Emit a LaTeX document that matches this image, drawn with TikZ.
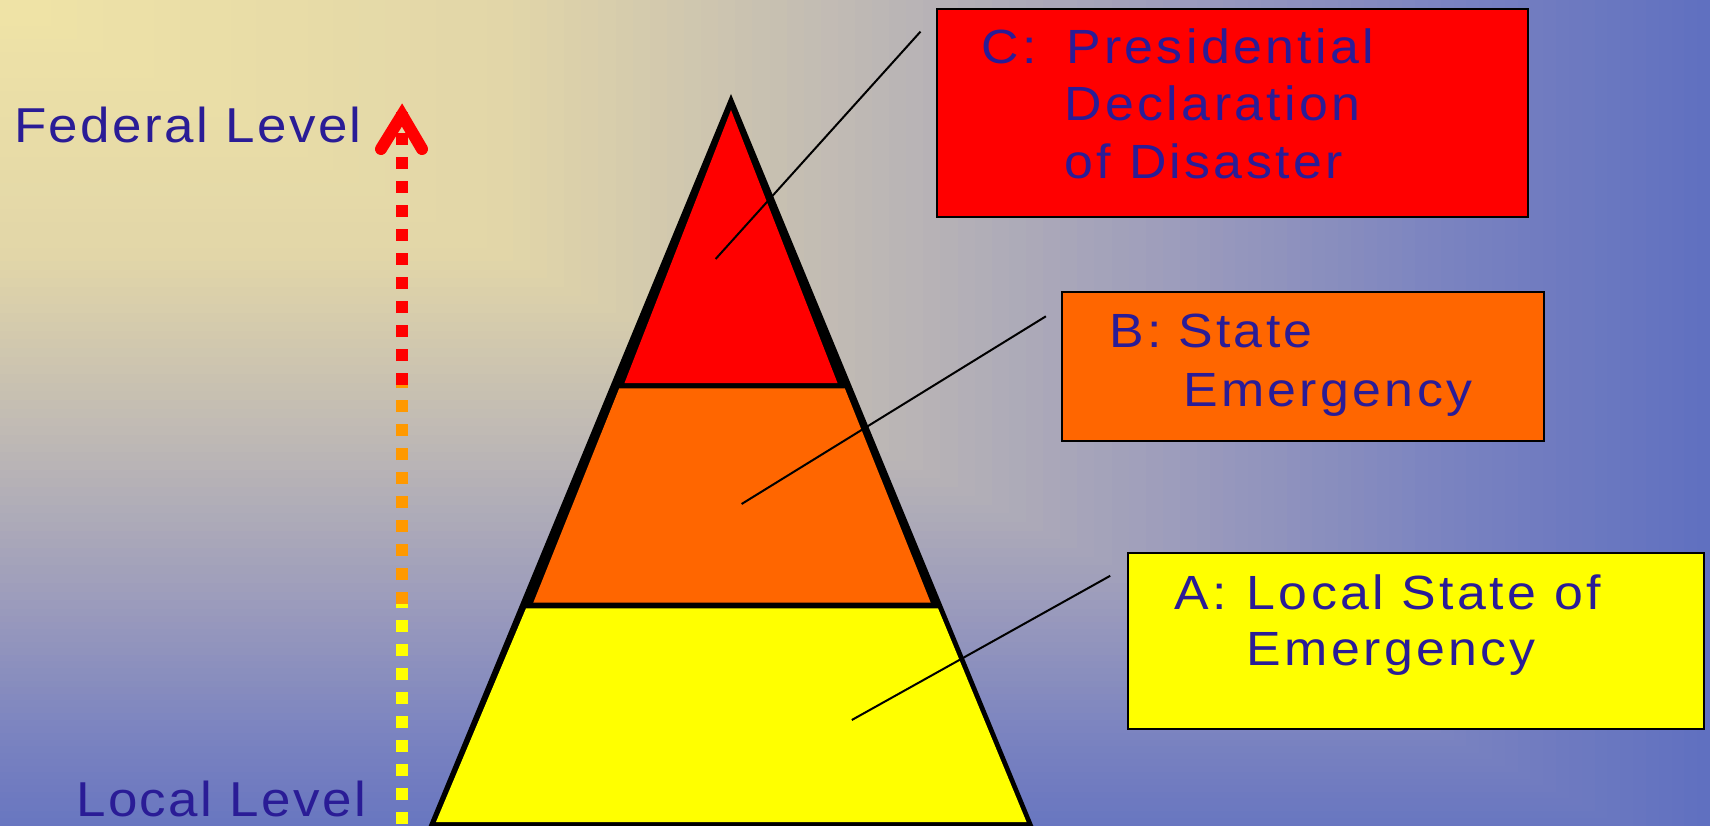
\documentclass[tikz,border=0pt]{standalone}
\usepackage{fontspec}
\newfontfamily\lblfont[FakeStretch=1.08,LetterSpace=5]{Liberation Sans}
\newfontfamily\boxfont[FakeStretch=1.08,LetterSpace=7]{Liberation Sans}
\definecolor{txt}{RGB}{42,28,150}
\definecolor{bgo}{RGB}{240,228,166}
\definecolor{bga}{RGB}{226,214,168}
\definecolor{bgb}{RGB}{192,186,180}
\definecolor{bgc}{RGB}{155,155,188}
\definecolor{bgd}{RGB}{122,131,192}
\definecolor{bge}{RGB}{96,112,192}
\definecolor{pred}{RGB}{255,0,0}
\definecolor{porange}{RGB}{255,102,0}
\definecolor{pyellow}{RGB}{255,255,0}
\definecolor{dorange}{RGB}{255,153,0}
\begin{document}
\begin{tikzpicture}[x=1pt,y=-1pt,
  lbl/.style={text=txt, font=\lblfont\fontsize{49}{58}\selectfont, anchor=base west, inner sep=0pt},
  boxtxt/.style={text=txt, font=\boxfont\fontsize{48}{57}\selectfont, anchor=base west, inner sep=0pt},
  infobox/.style={draw=black, line width=2pt, anchor=north west, inner sep=0pt},
  leader/.style={draw=black, line width=2pt},
  dotline/.style={line width=12pt, dash pattern=on 12pt off 12pt},
  chevron/.style={draw=pred, line width=12pt, line cap=round, line join=miter}]
\useasboundingbox (0,0) rectangle (1710,826);
% background: rectangular gradient from the top-left corner
\foreach \ta/\tb/\ca/\cb in {0.85/1/bgd/bge, 0.7/0.85/bgc/bgd, 0.5/0.7/bgb/bgc, 0.3/0.5/bga/bgb, 0/0.3/bgo/bga}{
  \foreach \k in {20,19,...,1}{
    \pgfmathsetmacro\tv{\ta+(\tb-\ta)*\k/20}
    \pgfmathtruncatemacro\pp{\k*5}
    \fill[\cb!\pp!\ca] (0,0) rectangle (\tv*1710,\tv*870);
  }
}
% pyramid
\fill[black] (731,94) -- (1035,830) -- (427,830) -- cycle;
\fill[pred] (731,110) -- (837.5,383) -- (624.5,383) -- cycle;
\fill[porange] (619.2,388.3) -- (844.8,388.3) -- (930.7,602.7) -- (533.3,602.7) -- cycle;
\fill[pyellow] (526,608.3) -- (938,608.3) -- (1026.5,822) -- (436,822) -- cycle;
% level labels
\node[lbl] (fed) at (14,143) {Federal Level};
\node[lbl] (loc) at (76,816) {Local Level};
% dotted arrow
\coordinate (yfoot) at (402,824);
\coordinate (ytop) at (402,596);
\coordinate (ofoot) at (402,604);
\coordinate (otop) at (402,376);
\coordinate (rfoot) at (402,385);
\coordinate (rtop) at (402,112);
\coordinate (wingl) at (381,149);
\coordinate (tip) at (402,115);
\coordinate (wingr) at (422,149);
\draw[dotline, pyellow] (yfoot) -- (ytop);
\draw[dotline, dorange] (ofoot) -- (otop);
\draw[dotline, pred] (rfoot) -- (rtop);
\draw[chevron] (wingl) -- (tip) -- (wingr);
% boxes
\node[infobox, fill=pred, minimum width=591pt, minimum height=208pt] (cbox) at (935.7,7.6) {};
\node[infobox, fill=porange, minimum width=482pt, minimum height=148.6pt] (bbox) at (1061.2,291.2) {};
\node[infobox, fill=pyellow, minimum width=576pt, minimum height=176pt] (abox) at (1126.6,551.7) {};
\node[boxtxt] (c1) at (981.5,64) {\makebox[84.5pt][l]{C:}Presidential};
\node[boxtxt] (c2) at (1064.5,121) {Declaration};
\node[boxtxt] (c3) at (1064.5,179) {of Disaster};
\node[boxtxt] (b1) at (1109,347) {\makebox[69pt][l]{B:}State};
\node[boxtxt] (b2) at (1183,406) {Emergency};
\node[boxtxt] (a1) at (1174.6,609) {\makebox[72pt][l]{A:}Local State of};
\node[boxtxt] (a2) at (1246.6,665) {Emergency};
% leader lines
\coordinate (cfoot) at (715.6,259);
\coordinate (chead) at (920.5,31.6);
\coordinate (bfoot) at (741.6,504);
\coordinate (bhead) at (1045.9,316.3);
\coordinate (afoot) at (851.8,720);
\coordinate (ahead) at (1110.2,575.8);
\draw[leader] (cfoot) -- (chead);
\draw[leader] (bfoot) -- (bhead);
\draw[leader] (afoot) -- (ahead);
\end{tikzpicture}
\end{document}
